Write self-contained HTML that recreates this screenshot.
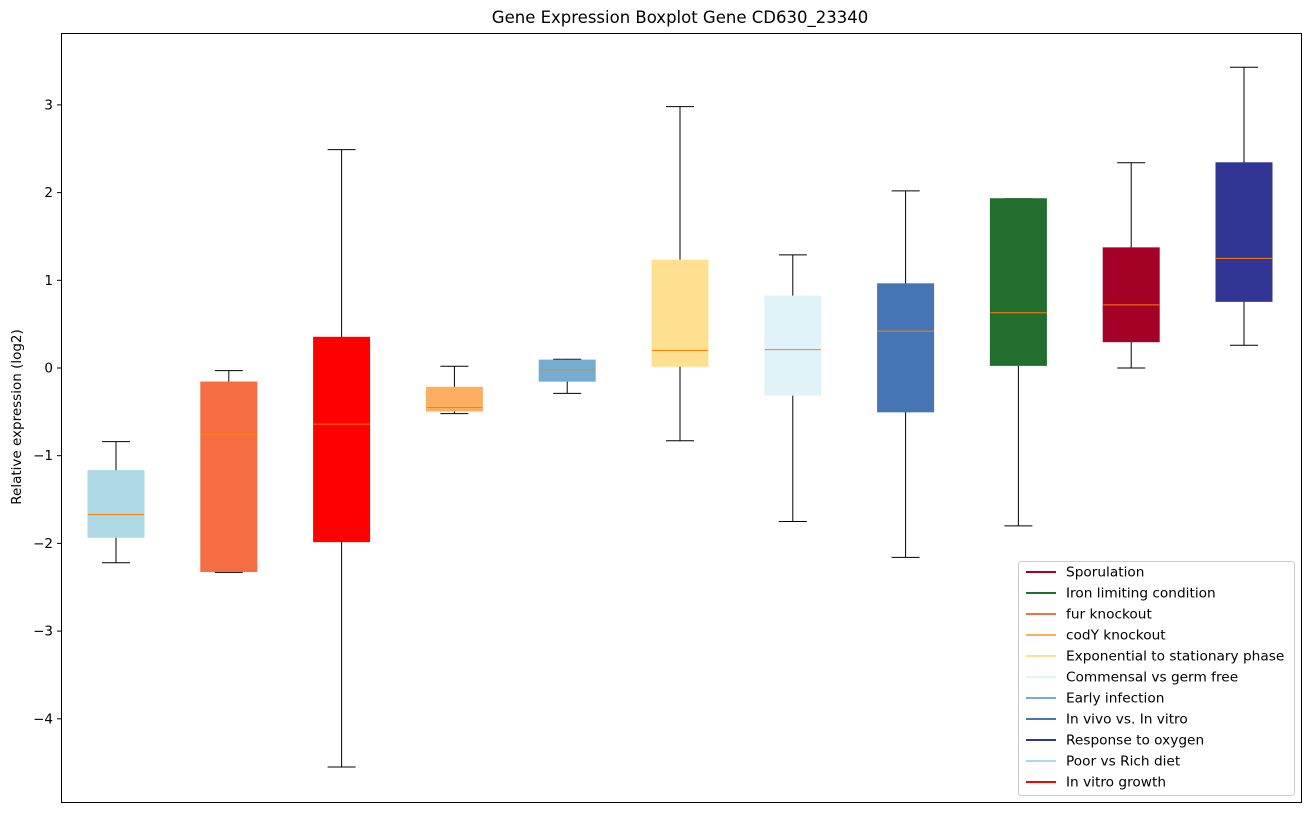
<!DOCTYPE html>
<html><head><meta charset="utf-8"><style>
body{margin:0;background:#fff;}
svg{font-family:"DejaVu Sans","Liberation Sans",sans-serif;}
</style></head><body>
<svg id="chart" width="1309" height="812" xmlns="http://www.w3.org/2000/svg"></svg>
<script>
const categories=["Poor vs Rich diet","fur knockout","In vitro growth","codY knockout","Early infection","Exponential to stationary phase","Commensal vs germ free","In vivo vs. In vitro","Iron limiting condition","Sporulation","Response to oxygen"];
const colors=["#add8e6","#f46d43","#ff0000","#fdae61","#74add1","#fee090","#e0f3f8","#4575b4","#216e2e","#a50026","#313695"];
const whiskerLow=[-2.22,-2.33,-4.55,-0.52,-0.29,-0.83,-1.75,-2.16,-1.80,0.00,0.26];
const q1=[-1.93,-2.32,-1.98,-0.49,-0.15,0.02,-0.31,-0.50,0.03,0.30,0.76];
const median=[-1.67,-0.76,-0.64,-0.45,-0.02,0.20,0.21,0.42,0.63,0.72,1.25];
const q3=[-1.17,-0.16,0.35,-0.22,0.09,1.23,0.82,0.96,1.93,1.37,2.34];
const whiskerHigh=[-0.84,-0.03,2.49,0.02,0.10,2.98,1.29,2.02,1.93,2.34,3.43];
const yTicks=[-4,-3,-2,-1,0,1,2,3];
const legendOrder=[9,8,1,3,5,6,4,7,10,0,2];

const NS="http://www.w3.org/2000/svg";
const svg=document.getElementById('chart');
const L=61,R=1301,T=33,B=802;
const y=v=>368-v*87.7;
const x=i=>116+i*112.8;
function el(t,a,p){const e=document.createElementNS(NS,t);for(const k in a)e.setAttribute(k,a[k]);(p||svg).appendChild(e);return e;}

const title=el('text',{x:680,y:23,'text-anchor':'middle','font-size':16.5,fill:'#000'});


title.textContent='Gene Expression Boxplot Gene CD630_23340';

const yl=el('text',{x:0,y:0,transform:'translate(21,417) rotate(-90)','text-anchor':'middle','font-size':13.5});


yl.textContent='Relative expression (log2)';

yTicks.forEach(t=>{
  const g=el('g',{});
  
  
  el('line',{x1:L-4,x2:L,y1:y(t),y2:y(t),stroke:'#000','stroke-width':1},g);
  const tx=el('text',{x:L-8,y:y(t)+4.5,'text-anchor':'end','font-size':13.5},g);
  tx.textContent=(t<0?'\u2212':'')+Math.abs(t);
});

categories.forEach((c,i)=>{
  const g=el('g',{});
  
  
  const cx=x(i),w=56,cap=28;
  el('line',{x1:cx,x2:cx,y1:y(whiskerLow[i]),y2:y(q1[i]),stroke:'#000'},g);
  el('line',{x1:cx,x2:cx,y1:y(q3[i]),y2:y(whiskerHigh[i]),stroke:'#000'},g);
  el('line',{x1:cx-cap/2,x2:cx+cap/2,y1:y(whiskerLow[i]),y2:y(whiskerLow[i]),stroke:'#000'},g);
  el('line',{x1:cx-cap/2,x2:cx+cap/2,y1:y(whiskerHigh[i]),y2:y(whiskerHigh[i]),stroke:'#000'},g);
  el('rect',{x:cx-w/2,y:y(q3[i]),width:w,height:Math.max(1,y(q1[i])-y(q3[i])),fill:colors[i],stroke:colors[i]},g);
  el('line',{x1:cx-w/2,x2:cx+w/2,y1:y(median[i]),y2:y(median[i]),stroke:'#ff7f0e','stroke-width':1},g);
});

el('rect',{x:L+0.5,y:T+0.5,width:R-L,height:B-T,fill:'none',stroke:'#000','stroke-width':1});

const lg=el('g',{});


el('rect',{x:1018.5,y:561.5,width:276,height:234,fill:'#fff',stroke:'#ccc',rx:3},lg);
legendOrder.forEach((idx,k)=>{
  const g=el('g',{},lg);
  
  
  const yy=572+k*21;
  el('line',{x1:1026,x2:1056,y1:yy,y2:yy,stroke:colors[idx],'stroke-width':2},g);
  const t=el('text',{x:1066,y:yy+4.5,'font-size':13.7},g);
  t.textContent=categories[idx];
});
</script>
</body></html>
